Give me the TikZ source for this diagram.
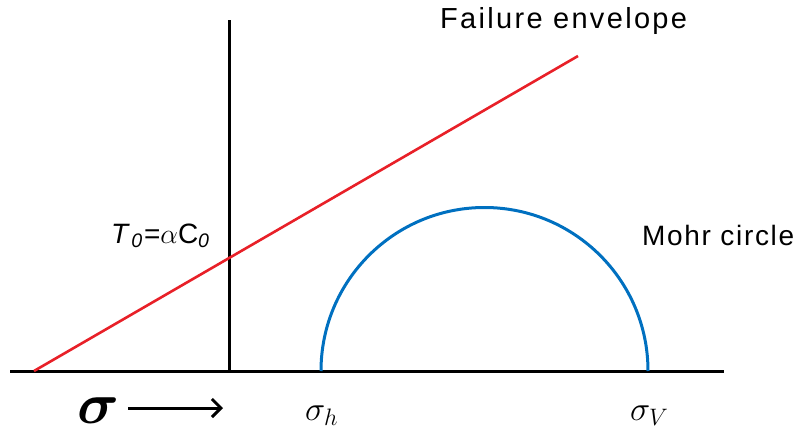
\RequirePackage{fix-cm}
\documentclass[tikz,border=0pt]{standalone}
\usepackage{bm}
\usepackage[no-math]{fontspec}
\setmainfont{Liberation Sans}
\newfontfamily\lblfont[LetterSpace=6]{Liberation Sans}
\newfontfamily\widefont[LetterSpace=8]{Liberation Sans}
\usetikzlibrary{arrows.meta}
\definecolor{envred}{RGB}{232,32,40}
\definecolor{mohrblue}{RGB}{0,112,192}
\begin{document}
\begin{tikzpicture}[x=1pt,y=1pt,
  axis/.style={line width=3pt,black},
  envelope/.style={line width=2.6pt,envred},
  mohr/.style={line width=3pt,mohrblue},
  lbl/.style={inner sep=0pt,anchor=base west,font=\lblfont\fontsize{28}{32}\selectfont},
  sig/.style={inner sep=0pt,anchor=base west,font=\fontsize{34}{38}\selectfont}]
\useasboundingbox (0,0) rectangle (809,432);
% axes
\coordinate (hl) at (10,61); \coordinate (hr) at (724,61);
\coordinate (vb) at (229,61); \coordinate (vt) at (229,412);
\draw[axis] (hl) -- (hr);
\draw[axis] (vb) -- (vt);
% failure envelope
\coordinate (e1) at (34,61); \coordinate (e2) at (578,376);
\draw[envelope] (e1) -- (e2);
% Mohr circle
\coordinate (ml) at (321,61);
\draw[mohr] (ml) arc[start angle=180,end angle=0,radius=163.5];
% labels
\node[lbl,font=\widefont\fontsize{29}{32}\selectfont] (fe) at (440,403) {Failure envelope};
\node[lbl] (mc) at (642,187) {Mohr circle};
\node[inner sep=0pt,anchor=base east,font=\lblfont\fontsize{28}{32}\selectfont] (t0) at (211,189) {\textit{T}\textsubscript{\textit{0}}=$\alpha$C\textsubscript{\textit{0}}};
\node[sig] (sh) at (305,12) {$\sigma_h$};
\node[sig] (sv) at (630,12) {$\sigma_V$};
\node[inner sep=0pt,anchor=base west,font=\fontsize{58}{62}\selectfont] (sb) at (77,9) {$\bm{\sigma}$};
\coordinate (a1) at (128,24); \coordinate (a2) at (223,24);
\draw[line width=3pt,-{Straight Barb[length=9pt,width=18pt]}] (a1) -- (a2);
\end{tikzpicture}
\end{document}
